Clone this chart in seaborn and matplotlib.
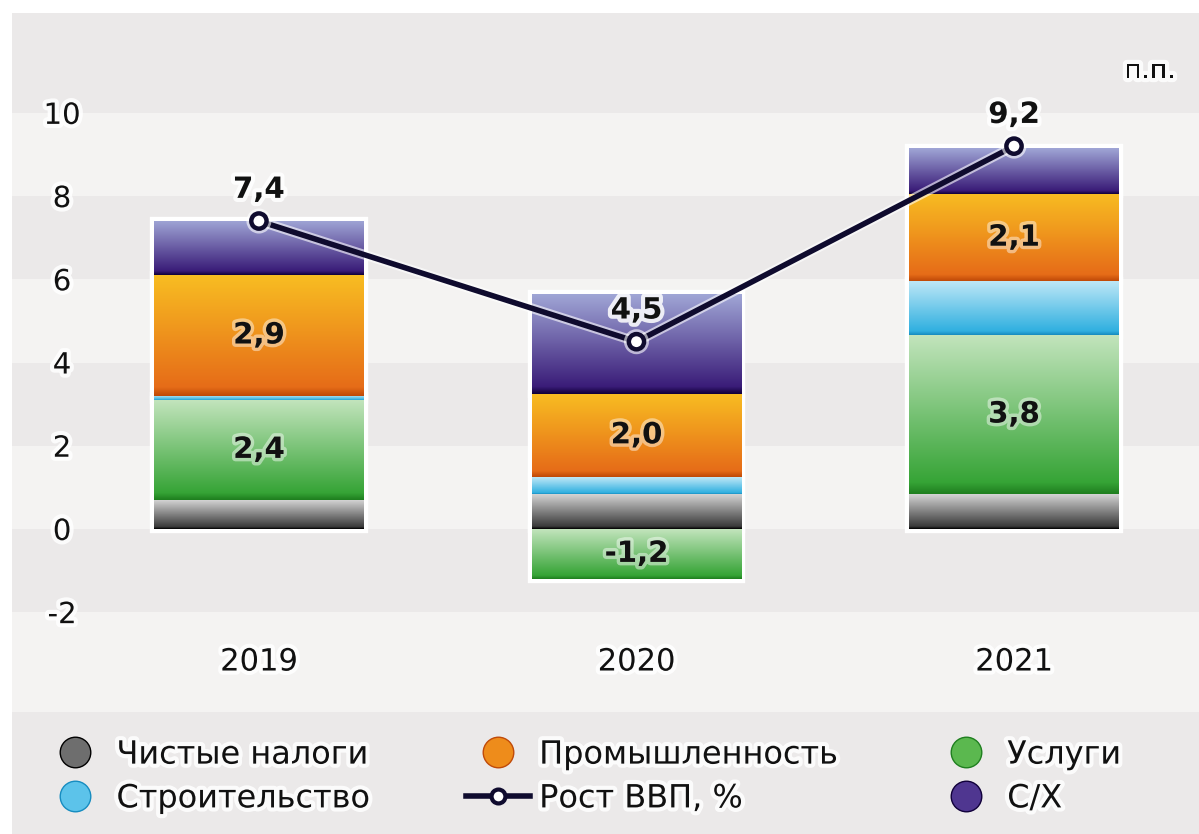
"""ВВП: вклад отраслей в рост, п.п."""
import matplotlib
matplotlib.use("Agg")
import matplotlib.pyplot as plt
import matplotlib.patheffects as pe
import numpy as np
import seaborn as sns
from matplotlib.colors import LinearSegmentedColormap
from matplotlib.lines import Line2D
from matplotlib.patches import Rectangle

years = ["2019", "2020", "2021"]
net_taxes = [0.7, 0.85, 0.85]
services = [2.4, -1.2, 3.8]
construction = [0.1, 0.4, 1.3]
industry = [2.9, 2.0, 2.1]
agriculture = [1.3, 2.4, 1.1]
gdp_growth = [7.4, 4.5, 9.2]
yticks = [-2, 0, 2, 4, 6, 8, 10]
ytick_labels = ["-2", "0", "2", "4", "6", "8", "10"]

# (name, values, mid colour, edge, bottom, top, show labels)
series = [
    ("Чистые налоги", net_taxes, "#6e6e6e", "#000000", "#3a3a3a", "#d8d8d8", False),
    ("Услуги", services, "#5bb84f", "#1f7f1f", "#36a436", "#c2e4bc", True),
    ("Строительство", construction, "#5cc3ea", "#168cc0", "#30b0e0", "#c0e8f7", False),
    ("Промышленность", industry, "#ee8c1b", "#c04a08", "#e66c18", "#f8bd22", True),
    ("С/Х", agriculture, "#4f3690", "#10003a", "#3a1c78", "#a0a6d6", False),
]
line_color = "#0f0b2e"
dark_band, light_band = "#ebe9e9", "#f4f3f2"

plt.rcParams["font.family"] = ["DejaVu Sans"]
glow = [pe.withStroke(linewidth=6, foreground="white", alpha=0.85)]

fig = plt.figure(figsize=(11.99, 8.34), dpi=100)
fig.patch.set_facecolor("white")
fig.patches.append(Rectangle((12 / 1199, 0), 1, 1 - 13 / 834, transform=fig.transFigure,
                             facecolor=dark_band, edgecolor="none", zorder=-10))
ax = fig.add_axes([12 / 1199, 122 / 834, 1187 / 1199, 699 / 834])
ax.set_facecolor(light_band)
for lo, hi in [(10, 13), (6, 8), (2, 4), (-2, 0)]:
    ax.axhspan(lo, hi, color=dark_band, lw=0, zorder=0)

pos_base = np.zeros(len(years))
neg_base = np.zeros(len(years))
shades = []
for name, vals, mid, edge, bot, top, show in series:
    vals = np.array(vals, dtype=float)
    base = np.where(vals >= 0, pos_base, neg_base)
    n0 = len(ax.patches)
    sns.barplot(x=years, y=vals, bottom=base, color=mid, width=0.556, errorbar=None,
                saturation=1, ax=ax, zorder=2, linewidth=0,
                path_effects=[pe.withStroke(linewidth=6, foreground="white")])
    for p in ax.patches[n0:]:
        shades.append((p, edge, bot, top))
    if show:
        for i, v in enumerate(vals):
            ax.text(i, base[i] + v / 2, f"{v:.1f}".replace(".", ","), ha="center", va="center",
                    fontsize=21, fontweight="bold", color="#111111", zorder=6,
                    path_effects=[pe.withStroke(linewidth=5, foreground="white", alpha=0.45)])
    pos_base = np.where(vals >= 0, pos_base + vals, pos_base)
    neg_base = np.where(vals < 0, neg_base + vals, neg_base)

# glossy vertical gradient inside every bar segment
for p, edge, bot, top in shades:
    x, y, w, h = p.get_x(), p.get_y(), p.get_width(), p.get_height()
    cmap = LinearSegmentedColormap.from_list("g", [(0, edge), (0.07, bot), (1, top)])
    grad = np.linspace(1, 0, 128).reshape(-1, 1)
    im = ax.imshow(grad, cmap=cmap, vmin=0, vmax=1, extent=(x, x + w, min(y, y + h), max(y, y + h)),
                   aspect="auto", origin="upper", interpolation="bilinear", zorder=3)
    im.set_clip_path(p)

xpos = np.arange(len(years))
sns.lineplot(x=xpos, y=gdp_growth, color=line_color, lw=4, marker="o", ms=11, mfc="white",
             mec=line_color, mew=3.2, ax=ax, zorder=5,
             path_effects=[pe.withStroke(linewidth=7, foreground="white", alpha=0.6)])
for i, v in enumerate(gdp_growth):
    ax.text(i, v + 0.75, f"{v:.1f}".replace(".", ","), ha="center", va="center", fontsize=21,
            fontweight="bold", color="#111111", zorder=6, path_effects=glow)

ax.text(2.36, 11.0, "п.п.", ha="center", va="center", fontsize=19, color="#111111",
        path_effects=glow)

ax.set_xlim(-0.654, 2.49)
ax.set_ylim(-4.4, 12.4)
ax.set_yticks(yticks, ytick_labels, ha="center", fontsize=21, color="#111111")
ax.set_xticks(xpos, years, va="center", fontsize=22, color="#111111")
ax.tick_params(axis="y", length=0, pad=-36)
ax.tick_params(axis="x", length=0, pad=-36)
for lbl in ax.get_yticklabels() + ax.get_xticklabels():
    lbl.set_path_effects(glow)
ax.set_xlabel("")
ax.set_ylabel("")
for s in ax.spines.values():
    s.set_visible(False)
if ax.get_legend():
    ax.get_legend().remove()

def dot(color, edge):
    return Line2D([], [], ls="none", marker="o", ms=22, mfc=color, mec=edge, mew=1)

h = {name: dot(mid, edge) for name, _, mid, edge, _, _, _ in series}
gdp_handle = Line2D([], [], color=line_color, lw=4, marker="o", ms=10, mfc="white",
                    mec=line_color, mew=3)
handles = [h["Чистые налоги"], h["Строительство"], h["Промышленность"], gdp_handle,
           h["Услуги"], h["С/Х"]]
labels = ["Чистые налоги", "Строительство", "Промышленность", "Рост ВВП, %", "Услуги", "С/Х"]
leg = fig.legend(handles, labels, loc="center left", bbox_to_anchor=(43 / 1199, 57 / 834),
                 ncol=3, frameon=False, fontsize=23, handlelength=2.0, handletextpad=0.3,
                 columnspacing=3.0, labelspacing=0.4, borderpad=0, borderaxespad=0)
for t in leg.get_texts():
    t.set_color("#111111")
    t.set_path_effects(glow)

fig.savefig("out.png", dpi=100)
